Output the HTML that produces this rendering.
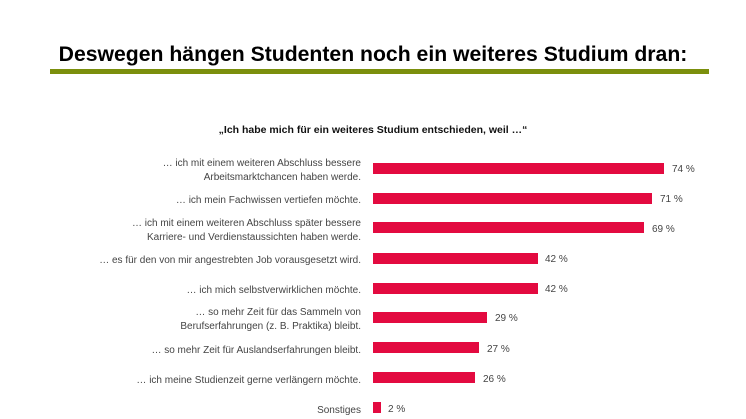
<!DOCTYPE html>
<html><head><meta charset="utf-8"><style>
body{margin:0;width:746px;height:419px;background:#fff;position:relative;overflow:hidden;font-family:"Liberation Sans",sans-serif}
.t{position:absolute;left:0;width:746px;top:43px;text-align:center;font-weight:bold;font-size:21.2px;color:#000}
.g{position:absolute;left:50px;top:69px;width:659px;height:5px;background:#7b8f0d}
.s{position:absolute;left:0;width:746px;top:124px;text-align:center;font-weight:bold;font-size:10.5px;color:#111}
.l{position:absolute;right:385px;text-align:right;font-size:10px;line-height:14px;color:#444;white-space:nowrap}
.b{position:absolute;left:373px;height:11px;background:#e30a40}
.v{position:absolute;font-size:10px;color:#444;line-height:11px}
</style></head><body>
<div class="t">Deswegen hängen Studenten noch ein weiteres Studium dran:</div>
<div class="g"></div>
<div class="s">„Ich habe mich für ein weiteres Studium entschieden, weil …“</div>

<div class="l" style="top:157px">… ich mit einem weiteren Abschluss bessere<br>Arbeitsmarktchancen haben werde.</div>
<div class="b" style="top:163px;width:291px"></div><div class="v" style="top:164px;left:672px">74 %</div>

<div class="l" style="top:194px">… ich mein Fachwissen vertiefen möchte.</div>
<div class="b" style="top:193px;width:279px"></div><div class="v" style="top:194px;left:660px">71 %</div>

<div class="l" style="top:217px">… ich mit einem weiteren Abschluss später bessere<br>Karriere- und Verdienstaussichten haben werde.</div>
<div class="b" style="top:222px;width:271px"></div><div class="v" style="top:224px;left:652px">69 %</div>

<div class="l" style="top:254px">… es für den von mir angestrebten Job vorausgesetzt wird.</div>
<div class="b" style="top:253px;width:165px"></div><div class="v" style="top:254px;left:545px">42 %</div>

<div class="l" style="top:284px">… ich mich selbstverwirklichen möchte.</div>
<div class="b" style="top:283px;width:165px"></div><div class="v" style="top:284px;left:545px">42 %</div>

<div class="l" style="top:306px">… so mehr Zeit für das Sammeln von<br>Berufserfahrungen (z. B. Praktika) bleibt.</div>
<div class="b" style="top:312px;width:114px"></div><div class="v" style="top:313px;left:495px">29 %</div>

<div class="l" style="top:344px">… so mehr Zeit für Auslandserfahrungen bleibt.</div>
<div class="b" style="top:342px;width:106px"></div><div class="v" style="top:344px;left:487px">27 %</div>

<div class="l" style="top:374px">… ich meine Studienzeit gerne verlängern möchte.</div>
<div class="b" style="top:372px;width:102px"></div><div class="v" style="top:374px;left:483px">26 %</div>

<div class="l" style="top:404px">Sonstiges</div>
<div class="b" style="top:402px;width:8px"></div><div class="v" style="top:404px;left:388px">2 %</div>
</body></html>
